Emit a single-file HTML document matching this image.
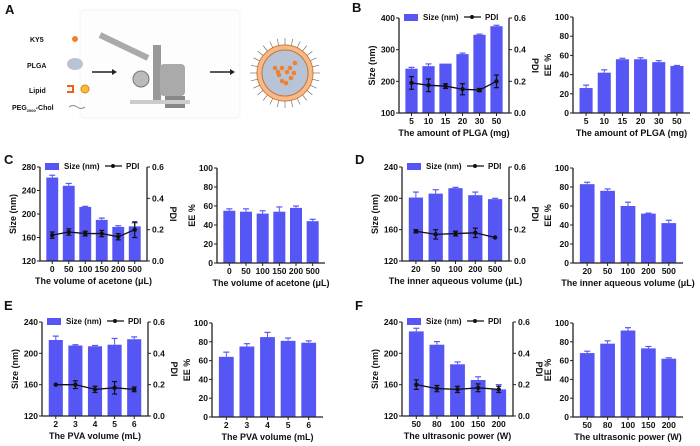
<!DOCTYPE html>
<html><head><meta charset="utf-8">
<style>
html,body{margin:0;padding:0;background:#fff;}
svg{display:block;font-family:"Liberation Sans",Arial,sans-serif;}
text{font-weight:bold;fill:#111;}
</style></head>
<body>
<svg id="fig" width="700" height="446" viewBox="0 0 700 446" xmlns="http://www.w3.org/2000/svg">
  <g>
    <text x="5" y="14" font-size="13">A</text>
    <rect x="80" y="10" width="160" height="108" rx="4" fill="#fdfdfd" stroke="#f3f3f3"/>
    <text x="30" y="42" font-size="7" font-weight="normal">KY5</text>
    <circle cx="75" cy="39" r="3" fill="#f08030"/>
    <text x="27" y="68" font-size="7" font-weight="normal">PLGA</text>
    <ellipse cx="75" cy="64" rx="8" ry="6" fill="#b8c4d6"/>
    <text x="29" y="93" font-size="7" font-weight="normal">Lipid</text>
    <path d="M67 86 h6 v6 h-6" fill="none" stroke="#f06010" stroke-width="2"/>
    <circle cx="85" cy="89" r="4" fill="#f5c030" stroke="#e08020"/>
    <text x="12" y="110" font-size="7" font-weight="normal">PEG<tspan font-size="4" dy="2">2000</tspan><tspan dy="-2">-Chol</tspan></text>
    <path d="M69 107 q4 -3 8 0 t8 0" fill="none" stroke="#888"/>
    <line x1="92" y1="72" x2="112" y2="72" stroke="#222" stroke-width="1.5"/>
    <path d="M112 69 l5 3 l-5 3z" fill="#222"/>
    <g>
      <line x1="100" y1="35" x2="148" y2="58" stroke="#aaa" stroke-width="6"/>
      <circle cx="141" cy="79" r="8" fill="#bbb" stroke="#777"/>
      <rect x="153" y="45" width="8" height="55" fill="#999"/>
      <rect x="160" y="64" width="25" height="32" rx="4" fill="#aaa"/>
      <rect x="165" y="96" width="20" height="12" fill="#888"/>
      <rect x="130" y="100" width="60" height="4" fill="#ccc"/>
    </g>
    <line x1="210" y1="72" x2="230" y2="72" stroke="#222" stroke-width="1.5"/>
    <path d="M230 69 l5 3 l-5 3z" fill="#222"/>
    <g id="nano">
      <circle cx="285" cy="73" r="28" fill="#f7b88a" stroke="#d08030"/>
      <circle cx="285" cy="73" r="23" fill="#b8c4d6" stroke="#c07830"/>
    </g>
  </g>
  <g id="charts"></g>
</svg>
<script>
const catsB = ["5","10","15","20","30","50"];
const sizeB = [240,248,256,286,347,374];
const sizeErrB = [4,7,0,3,2,3];
const pdiB = [0.19,0.175,0.17,0.15,0.145,0.20];
const pdiErrB = [0.04,0.04,0.015,0.035,0.01,0.04];
const eeB = [26,42,56,56,53,49];
const eeErrB = [3,3,1,1.5,1.5,0.5];
const sizeTicksB = [100,200,300,400];

const catsC = ["0","50","100","150","200","500"];
const sizeC = [262,248,212,190,178,179];
const sizeErrC = [4,4,1,3,2,6];
const pdiC = [0.165,0.185,0.175,0.175,0.155,0.20];
const pdiErrC = [0.02,0.02,0.015,0.02,0.02,0.05];
const eeC = [55,54,52,54,58,44];
const eeErrC = [2,3,3,5,2,2];
const sizeTicksC = [120,160,200,240,280];

const catsD = ["20","50","100","200","500"];
const sizeD = [201,206,213,204,199];
const sizeErrD = [7,5,1,4,1];
const pdiD = [0.19,0.17,0.175,0.18,0.15];
const pdiErrD = [0.01,0.03,0.015,0.03,0];
const eeD = [83,76,60,52,42];
const eeErrD = [2,2,4,0.5,3];
const sizeTicksD = [120,160,200,240];

const catsE = ["2","3","4","5","6"];
const sizeE = [217,210,209,211,218];
const sizeErrE = [5,1,1,8,3];
const pdiE = [0.20,0.20,0.17,0.18,0.17];
const pdiErrE = [0,0.025,0.02,0.04,0.015];
const eeE = [64,75,85,81,79];
const eeErrE = [5,3,5,3,2];
const sizeTicksE = [120,160,200,240];

const catsF = ["50","80","100","150","200"];
const sizeF = [228,211,186,166,154];
const sizeErrF = [4,4,3,4,6];
const pdiF = [0.20,0.175,0.17,0.18,0.17];
const pdiErrF = [0.03,0.02,0.02,0.025,0.02];
const eeF = [68,78,92,73,62];
const eeErrF = [2,3,3,2,1];
const sizeTicksF = [120,160,200,240];

const pdiTicks = [0,0.2,0.4,0.6];
const eeTicks = [0,20,40,60,80,100];

const NS = "http://www.w3.org/2000/svg";
const root = document.getElementById('charts');
const BAR = "#5656f4";
function mk(tag, attrs, parent){
  const e = document.createElementNS(NS, tag);
  for (const k in attrs) e.setAttribute(k, attrs[k]);
  (parent||root).appendChild(e);
  return e;
}
function txt(x,y,s,size,anchor,parent,rot){
  const t = mk('text',{x:x,y:y,'font-size':size,'text-anchor':anchor||'middle'},parent);
  if (rot) t.setAttribute('transform','rotate('+rot+' '+x+' '+y+')');
  t.textContent = s;
  return t;
}
function bandScale(n,x0,x1){
  const pad = 4, w = (x1-x0-pad*2)/n;
  return {c:i=>x0+pad+w*(i+0.5), w:w*0.72};
}
function lin(d0,d1,r0,r1){return v=>r0+(v-d0)/(d1-d0)*(r1-r0);}

function sizeChart(id,g0,cats,size,sizeErr,pdi,pdiErr,ticks,x0,x1,yT,yB,xlabel){
  const g = mk('g',{});
  
  
  const y = lin(ticks[0],ticks[ticks.length-1],yB,yT);
  const y2 = lin(0,0.6,yB,yT);
  const b = bandScale(cats.length,x0,x1);
  cats.forEach((c,i)=>{
    const r = mk('rect',{x:b.c(i)-b.w/2,y:y(size[i]),width:b.w,height:yB-y(size[i]),fill:BAR},g);
    
    
    const e = sizeErr[i];
    if (e>0){
      mk('line',{x1:b.c(i),x2:b.c(i),y1:y(size[i]),y2:y(size[i]+e),stroke:BAR,'stroke-width':1},g);
      mk('line',{x1:b.c(i)-3,x2:b.c(i)+3,y1:y(size[i]+e),y2:y(size[i]+e),stroke:BAR,'stroke-width':1.2},g);
    }
  });
  const pts = cats.map((c,i)=>b.c(i)+','+y2(pdi[i])).join(' ');
  const pl = mk('polyline',{points:pts,fill:'none',stroke:'#111','stroke-width':1.3},g);
  
  
  cats.forEach((c,i)=>{
    const e = pdiErr[i];
    if (e>0){
      mk('line',{x1:b.c(i),x2:b.c(i),y1:y2(pdi[i]-e),y2:y2(pdi[i]+e),stroke:'#111','stroke-width':1.2},g);
      mk('line',{x1:b.c(i)-2.5,x2:b.c(i)+2.5,y1:y2(pdi[i]+e),y2:y2(pdi[i]+e),stroke:'#111','stroke-width':1.2},g);
      mk('line',{x1:b.c(i)-2.5,x2:b.c(i)+2.5,y1:y2(pdi[i]-e),y2:y2(pdi[i]-e),stroke:'#111','stroke-width':1.2},g);
    }
    const p = mk('circle',{cx:b.c(i),cy:y2(pdi[i]),r:2.2,fill:'#111'},g);
    
    
    txt(b.c(i),yB+11,c,8.5,'middle',g);
  });
  mk('path',{d:'M'+x0+' '+yT+' V'+yB+' H'+x1+' V'+yT,fill:'none',stroke:'#222','stroke-width':1.3},g);
  ticks.forEach(t=>{
    mk('line',{x1:x0-3,x2:x0,y1:y(t),y2:y(t),stroke:'#222'},g);
    txt(x0-4,y(t)+3,String(t),8.5,'end',g);
  });
  pdiTicks.forEach(t=>{
    mk('line',{x1:x1,x2:x1+3,y1:y2(t),y2:y2(t),stroke:'#222'},g);
    txt(x1+5,y2(t)+3,t.toFixed(1),8.5,'start',g);
  });
  cats.forEach((c,i)=>mk('line',{x1:b.c(i),x2:b.c(i),y1:yB,y2:yB+3,stroke:'#222'},g));
  const yl = txt(x0-24,(yT+yB)/2,'Size (nm)',9,'middle',g,-90);
  
  
  const y2l = txt(x1+23,(yT+yB)/2,'PDI',9,'middle',g,90);
  
  
  const xl = txt((x0+x1)/2,yB+23,xlabel,9,'middle',g);
  
  
  const lg = mk('g',{},g);
  
  
  mk('rect',{x:x0+5,y:yT-4,width:14,height:7,fill:BAR},lg);
  txt(x0+24,yT+2,'Size (nm)',8,'start',lg);
  mk('line',{x1:x0+65,x2:x0+82,y1:yT-1,y2:yT-1,stroke:'#111','stroke-width':1.2},lg);
  mk('circle',{cx:x0+73,cy:yT-1,r:2,fill:'#111'},lg);
  txt(x0+86,yT+2,'PDI',8,'start',lg);
}
function eeChart(id,cats,ee,eeErr,x0,x1,yT,yB,xlabel){
  const g = mk('g',{});
  
  
  const y = lin(0,100,yB,yT);
  const b = bandScale(cats.length,x0,x1);
  cats.forEach((c,i)=>{
    const r = mk('rect',{x:b.c(i)-b.w/2,y:y(ee[i]),width:b.w,height:yB-y(ee[i]),fill:BAR},g);
    
    
    const e = eeErr[i];
    if (e>0){
      mk('line',{x1:b.c(i),x2:b.c(i),y1:y(ee[i]),y2:y(ee[i]+e),stroke:BAR},g);
      mk('line',{x1:b.c(i)-3,x2:b.c(i)+3,y1:y(ee[i]+e),y2:y(ee[i]+e),stroke:BAR,'stroke-width':1.2},g);
    }
    mk('line',{x1:b.c(i),x2:b.c(i),y1:yB,y2:yB+3,stroke:'#222'},g);
    txt(b.c(i),yB+11,c,8.5,'middle',g);
  });
  mk('path',{d:'M'+x0+' '+yT+' V'+yB+' H'+x1,fill:'none',stroke:'#222','stroke-width':1.3},g);
  eeTicks.forEach(t=>{
    mk('line',{x1:x0-3,x2:x0,y1:y(t),y2:y(t),stroke:'#222'},g);
    txt(x0-4,y(t)+3,String(t),8.5,'end',g);
  });
  const yl = txt(x0-22,(yT+yB)/2,'EE %',9,'middle',g,-90);
  
  
  const xl = txt((x0+x1)/2,yB+23,xlabel,9,'middle',g);
  
  
}
function label(s,x,y){
  const t = txt(x,y,s,13,'start');
  
  
}
label('B',352,12); label('C',4,164); label('D',355,164); label('E',4,310); label('F',355,310);

sizeChart('panel-b',0,catsB,sizeB,sizeErrB,pdiB,pdiErrB,sizeTicksB,399,509,18,113,'The amount of PLGA (mg)');
eeChart('panel-b',catsB,eeB,eeErrB,573,690,17,113,'The amount of PLGA (mg)');
sizeChart('panel-c',0,catsC,sizeC,sizeErrC,pdiC,pdiErrC,sizeTicksC,40,147,167,261,'The volume of acetone (\u03bcL)');
eeChart('panel-c',catsC,eeC,eeErrC,217,325,168,263,'The volume of acetone (\u03bcL)');
sizeChart('panel-d',0,catsD,sizeD,sizeErrD,pdiD,pdiErrD,sizeTicksD,402,509,167,261,'The inner aqueous volume (\u03bcL)');
eeChart('panel-d',catsD,eeD,eeErrD,573,683,168,263,'The inner aqueous volume (\u03bcL)');
sizeChart('panel-e',0,catsE,sizeE,sizeErrE,pdiE,pdiErrE,sizeTicksE,42,148,322,416,'The PVA volume (mL)');
eeChart('panel-e',catsE,eeE,eeErrE,212,323,323,417,'The PVA volume (mL)');
sizeChart('panel-f',0,catsF,sizeF,sizeErrF,pdiF,pdiErrF,sizeTicksF,402,513,322,416,'The ultrasonic power (W)');
eeChart('panel-f',catsF,eeF,eeErrF,573,683,323,417,'The ultrasonic power (W)');

const nano = document.getElementById('nano');
for (let k=0;k<28;k++){
  const a = k/28*Math.PI*2;
  const ln = mk('line',{x1:285+28*Math.cos(a),y1:73+28*Math.sin(a),x2:285+35*Math.cos(a),y2:73+35*Math.sin(a),stroke:'#777','stroke-width':0.7},nano);
}
[[-10,-5],[-3,-5],[5,-5],[10,-10],[-6,2],[2,-1],[9,0],[-3,8],[6,5],[-7,-1],[1,10]].forEach(p=>{
  mk('circle',{cx:285+p[0],cy:73+p[1],r:2.3,fill:'#f08030'},nano);
});
</script>
</body></html>
